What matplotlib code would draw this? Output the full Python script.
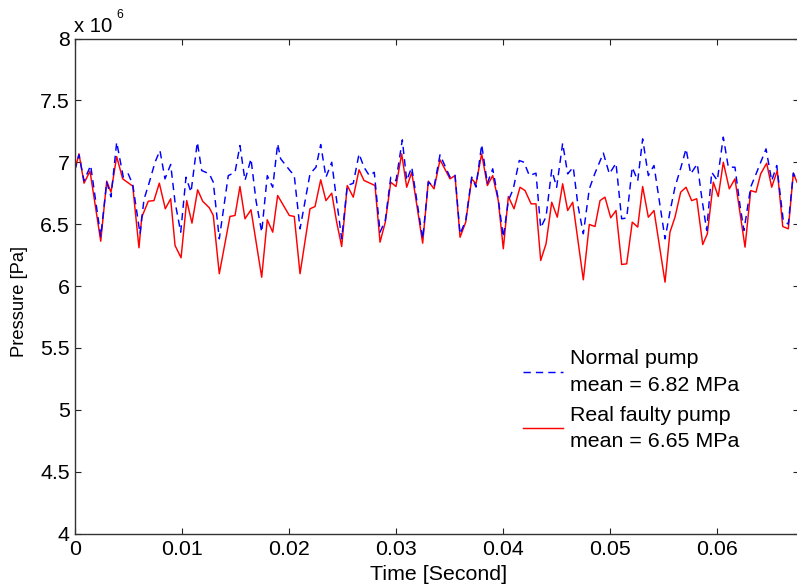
import matplotlib
matplotlib.use("Agg")
import matplotlib.pyplot as plt
import numpy as np

plt.rcParams['font.family'] = ['Liberation Sans', 'DejaVu Sans']
plt.rcParams['mathtext.fontset'] = 'custom'
plt.rcParams['mathtext.rm'] = 'Liberation Sans'

# ---------------- data (time in ms, pressure in MPa) ----------------
faulty_t = [0.00, 0.40, 0.87, 1.43, 2.43, 2.99, 3.39, 3.92, 4.48, 5.42, 6.00, 6.26, 6.87, 7.40,
            7.90, 8.46, 8.96, 9.37, 9.93, 10.46, 10.95, 11.48, 11.95, 12.57, 12.94, 13.50, 14.50,
            14.97, 15.43, 15.90, 16.46, 17.46, 17.98, 18.49, 18.95, 20.04, 20.50, 21.04, 21.97,
            22.44, 22.97, 23.46, 24.00, 24.46, 24.93, 25.45, 26.01, 26.55, 27.01, 28.04, 28.51,
            29.00, 29.51, 30.00, 30.53, 31.00, 31.47, 32.49, 33.02, 33.55, 34.11, 35.04, 35.51,
            35.98, 36.51, 37.07, 37.47, 38.00, 38.53, 39.03, 39.55, 40.02, 40.49, 41.02, 41.58,
            42.05, 42.61, 43.07, 43.51, 44.01, 44.54, 45.06, 45.56, 46.03, 46.50, 47.49, 48.05,
            48.58, 49.05, 49.51, 50.05, 50.54, 51.07, 51.54, 52.06, 52.57, 53.03, 53.56, 54.09,
            55.12, 55.58, 56.05, 56.58, 57.08, 57.61, 58.08, 58.64, 59.07, 59.63, 60.09, 60.56,
            61.12, 61.65, 62.59, 63.12, 63.61, 64.05, 64.61, 65.08, 65.60, 66.11, 66.63, 67.10,
            67.44]
faulty_p = [6.933, 7.068, 6.831, 6.928, 6.362, 6.847, 6.758, 7.046, 6.866, 6.807, 6.309, 6.556,
            6.685, 6.690, 6.831, 6.624, 6.705, 6.327, 6.228, 6.690, 6.508, 6.777, 6.685, 6.632,
            6.570, 6.099, 6.562, 6.570, 6.804, 6.543, 6.616, 6.071, 6.535, 6.435, 6.731, 6.570,
            6.562, 6.099, 6.624, 6.642, 6.858, 6.690, 6.750, 6.516, 6.319, 6.812, 6.718, 6.939,
            6.853, 6.812, 6.354, 6.516, 6.839, 6.804, 7.068, 6.798, 6.919, 6.346, 6.847, 6.785,
            7.020, 6.866, 6.892, 6.394, 6.516, 6.866, 6.826, 7.068, 6.812, 6.892, 6.690, 6.301,
            6.723, 6.624, 6.798, 6.771, 6.664, 6.664, 6.206, 6.341, 6.677, 6.556, 6.826, 6.610,
            6.677, 6.050, 6.497, 6.481, 6.690, 6.718, 6.551, 6.610, 6.174, 6.179, 6.516, 6.476,
            6.804, 6.556, 6.610, 6.031, 6.435, 6.556, 6.758, 6.798, 6.690, 6.705, 6.335, 6.422,
            6.839, 6.723, 7.000, 6.785, 6.866, 6.314, 6.771, 6.758, 6.906, 6.992, 6.798, 6.933,
            6.481, 6.462, 6.912, 6.839]

normal_t = [0.00, 0.40, 0.87, 1.49, 2.43, 2.99, 3.39, 3.92, 4.54, 5.00, 5.42, 6.10, 6.47, 6.97,
            7.50, 7.96, 8.43, 8.96, 9.37, 9.90, 10.39, 10.86, 11.45, 11.86, 12.57, 12.94, 13.50,
            14.34, 14.97, 15.43, 15.90, 16.46, 16.93, 17.46, 17.98, 18.49, 18.95, 19.23, 20.04,
            20.50, 21.04, 21.97, 22.53, 22.97, 23.46, 24.00, 24.46, 24.93, 25.45, 26.01, 26.55,
            27.01, 27.51, 27.97, 28.51, 29.00, 29.51, 30.00, 30.59, 31.00, 31.47, 32.49, 33.02,
            33.55, 34.11, 35.04, 35.51, 35.98, 36.51, 37.07, 37.47, 38.00, 38.53, 39.03, 39.55,
            40.02, 40.49, 40.95, 41.51, 41.95, 42.45, 43.07, 43.51, 44.01, 44.54, 45.00, 45.56,
            46.03, 46.55, 46.99, 47.49, 48.05, 48.58, 49.36, 49.92, 50.54, 51.07, 51.54, 52.06,
            52.57, 53.03, 53.56, 54.09, 54.65, 55.12, 55.58, 56.05, 56.61, 57.08, 57.52, 58.13,
            58.57, 59.01, 59.48, 60.00, 60.56, 61.03, 61.65, 62.12, 62.49, 63.12, 63.68, 64.55,
            65.08, 65.55, 66.16, 66.63, 67.10, 67.44]
normal_p = [6.933, 7.060, 6.850, 6.974, 6.400, 6.840, 6.720, 7.162, 6.879, 6.906, 6.820, 6.422,
            6.700, 6.839, 7.000, 7.095, 6.866, 6.982, 6.677, 6.435, 6.879, 6.758, 7.162, 6.933,
            6.906, 6.839, 6.381, 6.892, 6.919, 7.135, 6.853, 7.028, 6.690, 6.435, 6.892, 6.798,
            7.149, 7.028, 6.939, 6.892, 6.462, 6.906, 6.960, 7.143, 6.879, 7.000, 6.690, 6.381,
            6.812, 6.830, 7.068, 6.960, 6.892, 6.919, 6.435, 6.530, 6.879, 6.850, 7.181, 6.853,
            6.960, 6.381, 6.840, 6.800, 7.060, 6.880, 6.900, 6.420, 6.530, 6.880, 6.800, 7.143,
            6.830, 6.947, 6.700, 6.394, 6.690, 6.785, 7.014, 7.000, 6.892, 6.912, 6.470, 6.560,
            6.939, 6.798, 7.154, 6.906, 6.960, 6.650, 6.422, 6.785, 6.912, 7.074, 6.906, 6.992,
            6.543, 6.550, 6.960, 6.850, 7.189, 6.892, 6.974, 6.650, 6.381, 6.600, 6.800, 6.960,
            7.108, 6.906, 6.987, 6.700, 6.449, 6.919, 6.853, 7.203, 6.960, 6.960, 6.650, 6.449,
            6.800, 6.919, 7.108, 6.850, 6.974, 6.529, 6.500, 6.912, 6.850]

xticks = [0, 0.01, 0.02, 0.03, 0.04, 0.05, 0.06]
xtick_labels = ['0', '0.01', '0.02', '0.03', '0.04', '0.05', '0.06']
yticks_mpa = [4, 4.5, 5, 5.5, 6, 6.5, 7, 7.5, 8]
ytick_labels = ['4', '4.5', '5', '5.5', '6', '6.5', '7', '7.5', '8']
label_normal = 'Normal pump\nmean = 6.82 MPa'
label_faulty = 'Real faulty pump\nmean = 6.65 MPa'

# ---------------- figure ----------------
W, H = 797, 588
fig = plt.figure(figsize=(W / 100, H / 100), dpi=100)
left_px, right_px, top_px, bot_px = 74.7, 799.0, 38.5, 533.5
ax = fig.add_axes([left_px / W, 1 - bot_px / H, (right_px - left_px) / W, (bot_px - top_px) / H])

ft = np.array(faulty_t) / 1000.0
fp = np.array(faulty_p) * 1e6
nt = np.array(normal_t) / 1000.0
npv = np.array(normal_p) * 1e6

l_faulty, = ax.plot(ft, fp, color='#ff0000', lw=1.05, label=label_faulty)
l_normal, = ax.plot(nt, npv, color='#0000ff', lw=1.05, ls=(0, (5, 3.5)), label=label_normal)

ax.set_xlim(0, (right_px - left_px) / 107.1 * 0.01)
ax.set_ylim(4e6, 8e6)
ax.set_xticks(xticks)
ax.set_xticklabels(xtick_labels)
ax.set_yticks([v * 1e6 for v in yticks_mpa])
ax.set_yticklabels(ytick_labels)

fs = 15.4
ax.tick_params(axis='both', which='both', direction='in', length=4.3, width=0.8,
               colors='#222222', labelcolor='black', labelsize=fs,
               top=True, right=True)
ax.tick_params(axis='x', pad=5)
ax.tick_params(axis='y', pad=3.5)
for s in ax.spines.values():
    s.set_color('#333333')
    s.set_linewidth(1.0)

ax.set_xlabel('Time [Second]', fontsize=fs)
ax.xaxis.set_label_coords(0.503, -0.064)
ax.set_ylabel('Pressure [Pa]', fontsize=13.2)
ax.yaxis.set_label_coords(-0.065, 0.469)

# multiplier text "x 10^6"
fig.text(74 / W, 1 - 32.5 / H, 'x 10', fontsize=14.6, ha='left', va='baseline')
fig.text(116.5 / W, 1 - 18.5 / H, '6', fontsize=8.8, ha='left', va='baseline')

leg = ax.legend([l_normal, l_faulty], [label_normal, label_faulty],
                loc='upper left', bbox_to_anchor=(523 / W, 1 - 349.5 / H),
                bbox_transform=fig.transFigure, frameon=False, fontsize=fs,
                borderpad=0, borderaxespad=0, handlelength=1.87, handletextpad=0.33,
                labelspacing=0.5)
for t in leg.get_texts():
    t.set_linespacing(1.5)

fig.savefig('out.png', dpi=100)
